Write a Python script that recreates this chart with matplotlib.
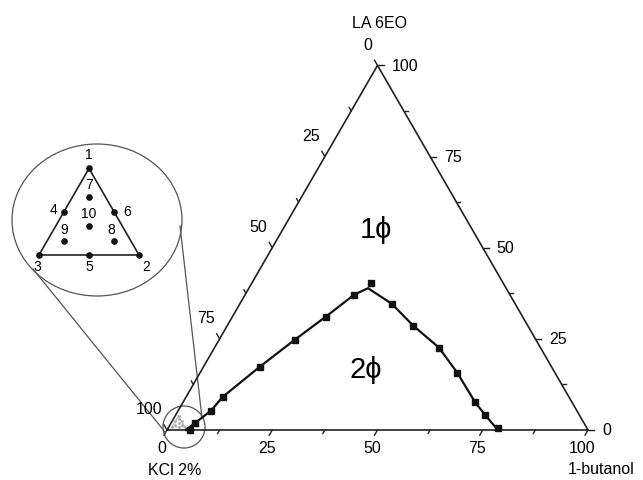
import numpy as np
import matplotlib
matplotlib.use('Agg')
import matplotlib.pyplot as plt
from matplotlib.patches import Ellipse, Circle

plt.rcParams['font.family'] = ['Liberation Sans', 'DejaVu Sans']

# ---------------- data (percent) ----------------
# binodal points: 1-butanol %, LA 6EO %
pts_butanol = [5.4, 5.7, 7.8, 8.7, 13.4, 18.0, 22.2, 25.9, 28.3, 36.1,
               44.2, 53.3, 61.2, 69.4, 73.4, 78.3]
pts_la = [0.1, 1.9, 5.3, 9.1, 17.4, 24.8, 31.1, 37.1, 40.3, 34.6,
          28.6, 22.6, 15.6, 7.6, 4.2, 0.5]
# fitted curve through the points
curve_butanol = [4.5, 5.7, 7.8, 8.7, 13.4, 18.0, 22.2, 25.9, 28.3, 36.1,
                 44.2, 53.3, 61.2, 69.4, 73.4, 78.6]
curve_la = [0.0, 1.9, 5.3, 9.1, 17.4, 24.8, 31.1, 37.1, 38.9, 34.6,
            28.6, 22.6, 15.6, 7.6, 4.2, 0.0]

major_ticks = [0, 25, 50, 75, 100]
minor_ticks = [12.5, 37.5, 62.5, 87.5]

# inset compositions (fraction of vertex 1, 2, 3)
inset_labels = ['1', '2', '3', '4', '5', '6', '7', '8', '9', '10']
inset_c1 = [1, 0, 0, 0.5, 0, 0.5, 2/3, 1/6, 1/6, 1/3]
inset_c2 = [0, 1, 0, 0, 0.5, 0.5, 1/6, 2/3, 1/6, 1/3]

S3 = np.sqrt(3) / 2
PX = 421.0  # pixels per unit side


def tern(b, a):
    """butanol %, LA % -> cartesian"""
    b = np.asarray(b) / 100.0
    a = np.asarray(a) / 100.0
    return b + a / 2, a * S3


def P(px, py):
    return (px - 167) / PX, (431 - py) / PX


fig = plt.figure(figsize=(6.43, 4.81), dpi=100)
ax = fig.add_axes([0, 0, 1, 1])
ax.set_xlim(-167 / PX, 476 / PX)
ax.set_ylim(-50 / PX, 431 / PX)
ax.axis('off')

# triangle
ax.plot([0, 1, 0.5, 0], [0, 0, S3, 0], color='#222', lw=1.2, zorder=3)

# ticks + labels
def tick(x, y, dx, dy, L):
    ax.plot([x, x + dx * L / PX], [y, y + dy * L / PX], color='#222', lw=1.0)

for v in major_ticks + minor_ticks:
    L = 6 if v in major_ticks else 4
    f = v / 100
    tick(f, 0, -0.5, -S3, L)                    # 1-butanol (base)
    tick(1 - f / 2, f * S3, 1, 0, L)            # LA 6EO (right)
    a = 1 - f
    tick(a / 2, a * S3, -0.5, S3, L)            # KCl (left)

fs = 11.5
for v in major_ticks:
    f = v / 100
    ax.text(f - 5.5 / PX, -18 / PX, str(v), ha='center', va='center', fontsize=fs)
    ax.text(1 - f / 2 + 14 / PX, f * S3, str(v), ha='left', va='center', fontsize=fs)
    a = 1 - f
    ax.text(a / 2 - 5 / PX, a * S3 + 21 / PX, str(v), ha='right', va='center', fontsize=fs)

ax.text(*P(379, 23), 'LA 6EO', ha='center', va='center', fontsize=fs)
ax.text(*P(175, 471), 'KCl 2%', ha='center', va='center', fontsize=fs)
ax.text(*P(601, 470), '1-butanol', ha='center', va='center', fontsize=fs)

# binodal
cx, cy = tern(curve_butanol, curve_la)
ax.plot(cx, cy, color='#111', lw=1.6, zorder=4)
mx, my = tern(pts_butanol, pts_la)
ax.plot(mx, my, 's', color='#111', ms=4.6, zorder=5)

ax.text(*P(376, 230), '1ϕ', ha='center', va='center', fontsize=21)
ax.text(*P(366, 370), '2ϕ', ha='center', va='center', fontsize=21)

# magnifier
gray = '#555'
ax.add_patch(Ellipse(P(97, 221), 170 / PX, 152 / PX, fill=False, ec=gray, lw=0.9))
ax.add_patch(Circle(P(184, 428), 21 / PX, fill=False, ec=gray, lw=0.9))
ax.plot(*zip(P(33, 270), P(165, 433)), color=gray, lw=0.9)
ax.plot(*zip(P(180, 227), P(202, 419)), color=gray, lw=0.9)

# inset triangle
def inset_xy(c1, c2, origin, w):
    c1 = np.asarray(c1)
    c2 = np.asarray(c2)
    return origin[0] + w * (c2 + c1 / 2), origin[1] + w * S3 * c1

o = P(39, 256)
w = 100 / PX
tx, ty = inset_xy([1, 0, 0, 1], [0, 1, 0, 0], o, w)
ax.plot(tx, ty, color='#222', lw=1.2)
ix, iy = inset_xy(inset_c1, inset_c2, o, w)
ax.plot(ix, iy, 'o', color='#111', ms=3.8)
offs = {'1': (0, 14), '2': (7, -11), '3': (-2, -11), '4': (-11, 3),
        '5': (0, -11), '6': (13, 1), '7': (0, 13), '8': (-3, 12),
        '9': (0, 12), '10': (0, 13)}
for lab, x, y in zip(inset_labels, ix, iy):
    dx, dy = offs[lab]
    ax.text(x + dx / PX, y + dy / PX, lab, ha='center', va='center', fontsize=10)

# tiny copy inside the small circle
o2 = P(172, 428)
w2 = 13 / PX
tx, ty = inset_xy([1, 0, 0, 1], [0, 1, 0, 0], o2, w2)
ax.plot(tx, ty, color='#aaa', lw=0.6)
ix, iy = inset_xy(inset_c1, inset_c2, o2, w2)
ax.plot(ix, iy, 'o', color='#aaa', ms=1.0)

fig.savefig('out.png', dpi=100)
